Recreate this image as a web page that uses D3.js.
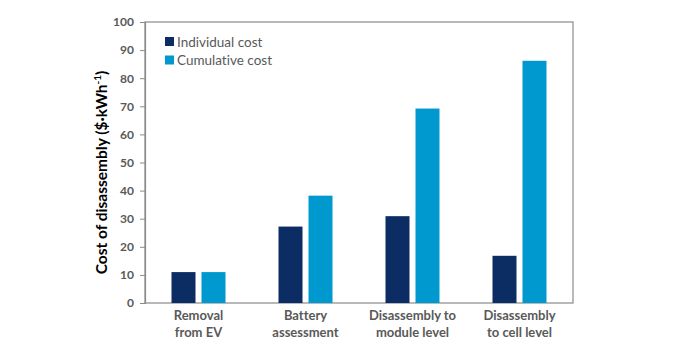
<!DOCTYPE html>
<html><head><meta charset="utf-8">
<script src="https://cdn.jsdelivr.net/npm/d3@7"></script>
<style>body{margin:0;background:#fff}svg text{font-family:Lato,"Open Sans",sans-serif;font-variant-ligatures:none}</style>
</head><body><svg id="c" width="674" height="346"></svg>
<script>
const categories = [["Removal","from EV"],["Battery","assessment"],["Disassembly to","module level"],["Disassembly","to cell level"]];
const individual = [11, 27.2, 30.9, 16.8];
const cumulative = [11, 38.2, 69.2, 86.2];
const yTicks = [0,10,20,30,40,50,60,70,80,90,100];
const seriesNames = ["Individual cost","Cumulative cost"];
const colors = ["#0b2d63","#0099cf"];

const svg = d3.select("#c");
const L=145,R=573,T=22,B=303;
const x = d3.scaleBand().domain(d3.range(categories.length)).range([L,R]);
const y = d3.scaleLinear().domain([0,100]).range([B,T]);
const bw = 24, gap = 6;

svg.append("rect").attr("x",L).attr("y",T).attr("width",R-L).attr("height",B-T)
  .attr("fill","none").attr("stroke","#8a8a8a").attr("stroke-width",1.2);

const series=[individual,cumulative];
series.forEach((vals,si)=>{
  svg.append("g").selectAll("rect").data(vals).join("rect")
    .attr("x",(d,i)=>x(i)+x.bandwidth()/2 + (si===0 ? -gap/2-bw : gap/2))
    .attr("y",d=>y(d)).attr("width",bw).attr("height",d=>B-y(d))
    .attr("fill",colors[si]);
});

const ya = svg.append("g").attr("transform",`translate(${L},0)`)
  .call(d3.axisLeft(y).tickValues(yTicks).tickSize(5).tickPadding(6));
ya.select(".domain").attr("stroke","#8a8a8a").attr("stroke-width",1.2);
ya.selectAll(".tick line").attr("stroke","#8a8a8a");
ya.selectAll(".tick text").attr("fill","#595959").attr("font-size",12).attr("font-weight","bold");

const xl = svg.append("g");
categories.forEach((lines,i)=>{
  const t = xl.append("text").attr("x",x(i)+x.bandwidth()/2).attr("y",320)
    .attr("text-anchor","middle").attr("fill","#595959").attr("font-size",13).attr("font-weight","bold");
  lines.forEach((ln,j)=>t.append("tspan").attr("x",x(i)+x.bandwidth()/2).attr("dy",j?16.5:0).text(ln));
});

const yt = svg.append("text").attr("transform",`translate(107,${(T+B)/2+10}) rotate(-90)`)
  .attr("text-anchor","middle").attr("font-size",15.5).attr("font-weight","bold").attr("fill","#000");
yt.append("tspan").text("Cost of disassembly ($·kWh");
yt.append("tspan").attr("font-size",10).attr("dy",-6).text("-1");
yt.append("tspan").attr("dy",6).text(")");

const lg = svg.append("g");
seriesNames.forEach((n,i)=>{
  const yy = 42 + i*18.5;
  lg.append("rect").attr("x",165).attr("y",yy-5).attr("width",9).attr("height",9).attr("fill",colors[i]);
  lg.append("text").attr("x",177).attr("y",yy+4.5).attr("font-size",13.5).attr("fill","#595959").text(n);
});
</script></body></html>
